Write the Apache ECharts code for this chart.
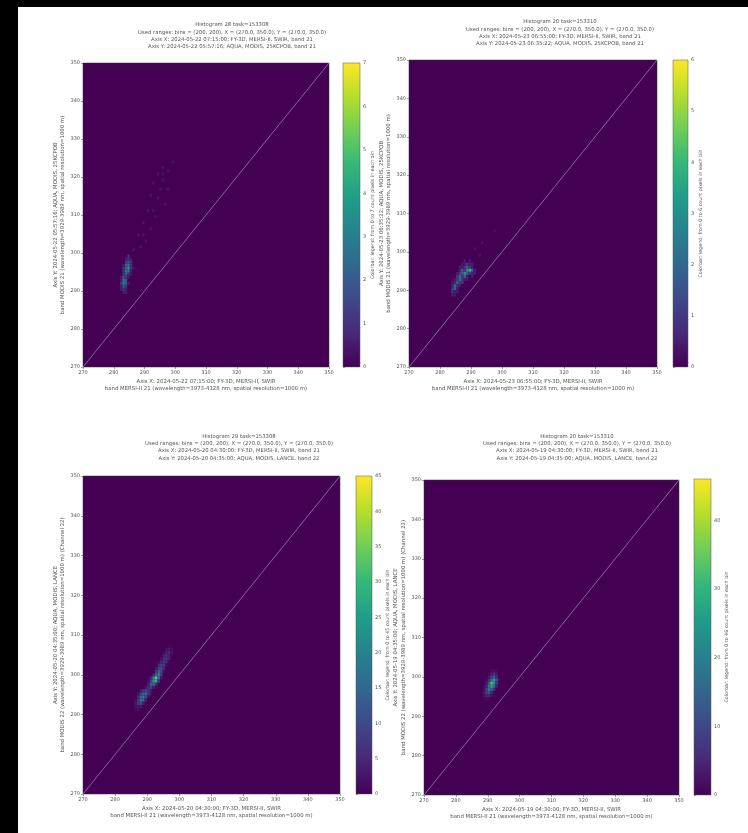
<!DOCTYPE html>
<html>
<head>
<meta charset="utf-8">
<title>Histograms</title>
<style>
  html, body { margin: 0; height: 100%; background: #000; overflow: hidden; }
  #paper { position: absolute; left: 18px; top: 7px; right: 0; bottom: 0; background: #fff; }
  #main { position: absolute; left: 0; top: 0; width: 748px; height: 833px; filter: blur(0.7px); }
</style>
</head>
<body>
<div id="paper"></div>
<div id="main"></div>
<script src="https://cdn.jsdelivr.net/npm/echarts@6/dist/echarts.min.js"></script>
<script>
// temperature range of all four histograms, K
var axisMin = 270;
var axisMax = 350;
var axisStep = 10;
var binWidth = 0.8;
var diagonal = [[270, 270], [350, 350]];

var viridis = ['#440154', '#482878', '#3e4989', '#31688e', '#26828e', '#1f9e89', '#35b779', '#6ece58', '#b5de2b', '#fde725'];

// histogram rows: [y, first x, counts in x bins...]
var rows28 = [
  [299.2, 284.8, 1],
  [298.4, 284, 0.5, 1, 0.5],
  [297.6, 284, 1, 2, 1],
  [296.8, 283.2, 0.5, 2, 3, 1],
  [296, 283.2, 1, 2, 4, 1, 0.5],
  [295.2, 283.2, 1, 3, 3, 0.5],
  [294.4, 283.2, 1, 2, 1, 0.5],
  [293.6, 282.4, 0.5, 2, 1, 0.5],
  [292.8, 282.4, 0.5, 3, 2],
  [292, 282.4, 1, 3, 2, 0.5],
  [291.2, 282.4, 0.5, 2, 1],
  [290.4, 282.4, 0.5, 1, 0.5],
  [289.6, 283.2, 0.5, 0.5],
  [324, 299.2, 0.4], [322.4, 296, 0.4], [321.6, 297.6, 0.4], [320.8, 294.4, 0.4, 0, 0.4],
  [319.2, 296, 0.4], [318.4, 292.8, 0.4], [316.8, 295.2, 0.4, 0, 0, 0.4], [315.2, 292, 0.4],
  [314.4, 294.4, 0.4], [312.8, 296.8, 0.4], [311.2, 291.2, 0.4, 0, 0.4], [309.6, 293.6, 0.4],
  [308, 289.6, 0.4], [306.4, 292, 0.4], [304.8, 288, 0.4, 0, 0.4], [303.2, 290.4, 0.4],
  [301.6, 288.8, 0.4], [300.8, 286.4, 0.4]
];
var rows20a = [
  [297.6, 288, 0.5, 0, 0.5],
  [296.8, 287.2, 0.5, 0.5, 1, 0.5, 0.5],
  [296, 286.4, 0.5, 0.5, 1, 2, 1, 0.5],
  [295.2, 286.4, 0.5, 2, 1, 3, 4, 2, 0.5],
  [294.4, 285.6, 0.5, 1, 2, 3, 2, 1, 0.5, 0.5],
  [293.6, 285.6, 1, 2, 1, 2, 0.5, 0, 0.5],
  [292.8, 284.8, 0.5, 1, 2, 1, 0.5, 0.5],
  [292, 284, 0.5, 0.5, 2, 1, 1],
  [291.2, 284, 0.5, 2, 1, 0.5],
  [290.4, 284, 1, 2, 0.5],
  [289.6, 284, 1, 0.5, 0.5],
  [288.8, 284, 0.5, 0.5],
  [305.6, 297.6, 0.3], [302.4, 293.6, 0.3], [300.8, 291.2, 0.3], [299.2, 292.8, 0.3]
];
var rows29 = [
  [307.2, 296.8, 1, 1],
  [306.4, 296, 2, 3, 2],
  [305.6, 295.2, 1, 4, 5, 2],
  [304.8, 295.2, 4, 6, 4, 1],
  [304, 294.4, 2, 6, 7, 4],
  [303.2, 293.6, 1, 5, 8, 6, 1],
  [302.4, 293.6, 5, 9, 8, 2],
  [301.6, 292.8, 3, 9, 11, 5],
  [300.8, 292.8, 7, 14, 10, 2],
  [300, 292, 4, 14, 20, 9],
  [299.2, 291.2, 6, 22, 34, 16, 3],
  [298.4, 290.4, 2, 9, 26, 28, 7],
  [297.6, 290.4, 4, 14, 16, 5],
  [296.8, 289.6, 2, 6, 8, 4, 1],
  [296, 288, 3, 7, 9, 7, 3],
  [295.2, 287.2, 2, 8, 14, 16, 8, 2],
  [294.4, 287.2, 5, 16, 20, 10, 2],
  [293.6, 286.4, 2, 7, 16, 14, 4],
  [292.8, 286.4, 3, 8, 10, 4],
  [292, 286.4, 2, 3, 3],
  [291.2, 286.4, 1, 2]
];
var rows20b = [
  [301.6, 291.2, 1, 2, 1],
  [300.8, 290.4, 1, 3, 6, 3],
  [300, 290.4, 3, 9, 13, 6, 1],
  [299.2, 289.6, 1, 6, 18, 26, 12, 2],
  [298.4, 289.6, 3, 14, 34, 26, 8, 1],
  [297.6, 288.8, 1, 5, 18, 28, 18, 4],
  [296.8, 288.8, 2, 8, 18, 16, 6],
  [296, 288.8, 3, 9, 12, 6, 1],
  [295.2, 288.8, 2, 5, 5, 2],
  [294.4, 288.8, 1, 2, 1]
];

var titles = [
  'Histogram 28 task=153308\nUsed ranges: bins = (200, 200), X = (270.0, 350.0), Y = (270.0, 350.0)\nAxis X: 2024-05-22 07:15:00; FY-3D, MERSI-II, SWIR, band 21\nAxis Y: 2024-05-22 05:57:16; AQUA, MODIS, 25KCPOB, band 21',
  'Histogram 20 task=153310\nUsed ranges: bins = (200, 200), X = (270.0, 350.0), Y = (270.0, 350.0)\nAxis X: 2024-05-23 06:55:00; FY-3D, MERSI-II, SWIR, band 21\nAxis Y: 2024-05-23 06:35:22; AQUA, MODIS, 25KCPOB, band 21',
  'Histogram 29 task=153308\nUsed ranges: bins = (200, 200), X = (270.0, 350.0), Y = (270.0, 350.0)\nAxis X: 2024-05-20 04:30:00; FY-3D, MERSI-II, SWIR, band 21\nAxis Y: 2024-05-20 04:35:00; AQUA, MODIS, LANCE, band 22',
  'Histogram 20 task=153310\nUsed ranges: bins = (200, 200), X = (270.0, 350.0), Y = (270.0, 350.0)\nAxis X: 2024-05-19 04:30:00; FY-3D, MERSI-II, SWIR, band 21\nAxis Y: 2024-05-19 04:35:00; AQUA, MODIS, LANCE, band 22'
];
var xNames = [
  'Axis X: 2024-05-22 07:15:00; FY-3D, MERSI-II, SWIR\nband MERSI-II 21 (wavelength=3973-4128 nm, spatial resolution=1000 m)',
  'Axis X: 2024-05-23 06:55:00; FY-3D, MERSI-II, SWIR\nband MERSI-II 21 (wavelength=3973-4128 nm, spatial resolution=1000 m)',
  'Axis X: 2024-05-20 04:30:00; FY-3D, MERSI-II, SWIR\nband MERSI-II 21 (wavelength=3973-4128 nm, spatial resolution=1000 m)',
  'Axis X: 2024-05-19 04:30:00; FY-3D, MERSI-II, SWIR\nband MERSI-II 21 (wavelength=3973-4128 nm, spatial resolution=1000 m)'
];
var yNames = [
  'Axis Y: 2024-05-22 05:57:16; AQUA, MODIS, 25KCPOB\nband MODIS 21 (wavelength=3929-3989 nm, spatial resolution=1000 m)',
  'Axis Y: 2024-05-23 06:35:22; AQUA, MODIS, 25KCPOB\nband MODIS 21 (wavelength=3929-3989 nm, spatial resolution=1000 m)',
  'Axis Y: 2024-05-20 04:35:00; AQUA, MODIS, LANCE\nband MODIS 22 (wavelength=3929-3989 nm, spatial resolution=1000 m) (Channel 22)',
  'Axis Y: 2024-05-19 04:35:00; AQUA, MODIS, LANCE\nband MODIS 22 (wavelength=3929-3989 nm, spatial resolution=1000 m) (Channel 22)'
];
var barMax = [7, 6, 45, 46];
var barStep = [1, 1, 5, 10];
var barNames = [
  'Colorbar: legend: from 0 to 7 count pixels in each bin',
  'Colorbar: legend: from 0 to 6 count pixels in each bin',
  'Colorbar: legend: from 0 to 45 count pixels in each bin',
  'Colorbar: legend: from 0 to 46 count pixels in each bin'
];
var histRows = [rows28, rows20a, rows29, rows20b];

// page layout of each panel
var layout = [
  {left: 83, top: 63, width: 246, height: 304, barLeft: 343, barTop: 63, barW: 17, barH: 304, barGap: 6.5, titleX: 232, titleTop: 21.5, yGap: 14},
  {left: 409, top: 60, width: 248, height: 307, barLeft: 673, barTop: 60, barW: 15, barH: 307, barGap: 9, titleX: 560, titleTop: 18.5, yGap: 15},
  {left: 83, top: 476, width: 257, height: 318, barLeft: 356, barTop: 476, barW: 16, barH: 318, barGap: 10, titleX: 239, titleTop: 433, yGap: 14},
  {left: 424, top: 480, width: 255, height: 315, barLeft: 694, barTop: 479, barW: 17, barH: 316, barGap: 10, titleX: 577, titleTop: 433, yGap: 17}
];

var textColor = '#555';

function expandRows(rows) {
  var cells = [];
  rows.forEach(function (row) {
    for (var i = 2; i < row.length; i++) {
      if (row[i] > 0) cells.push([row[1] + (i - 2) * binWidth, row[0], row[i]]);
    }
  });
  return cells;
}

function renderBin(params, api) {
  var start = api.coord([api.value(0), api.value(1)]);
  var size = api.size([binWidth, binWidth]);
  return {
    type: 'rect',
    shape: {x: start[0] - size[0] / 2, y: start[1] - size[1] / 2, width: size[0], height: size[1]},
    style: {fill: api.visual('color')}
  };
}

// the colorbar itself: one rect from 0 to the top of its axis
function renderBar(params, api) {
  var low = api.coord([0, 0]);
  var high = api.coord([1, api.value(1)]);
  var stops = viridis.map(function (c, k) {
    return {offset: 1 - k / (viridis.length - 1), color: c};
  }).reverse();
  return {
    type: 'rect',
    shape: {x: low[0], y: high[1], width: high[0] - low[0], height: low[1] - high[1]},
    style: {fill: new echarts.graphic.LinearGradient(0, 0, 0, 1, stops)}
  };
}

var option = {
  animation: false,
  title: [], grid: [], xAxis: [], yAxis: [], series: [], visualMap: []
};

layout.forEach(function (p, i) {
  option.title.push({
    text: titles[i], left: p.titleX, top: p.titleTop, textAlign: 'center', padding: 0,
    textStyle: {fontSize: 5.3, lineHeight: 7.2, fontWeight: 'normal', color: textColor, fontFamily: 'DejaVu Sans'}
  });

  // heatmap panel
  option.grid.push({left: p.left, top: p.top, width: p.width, height: p.height, show: true, backgroundColor: viridis[0], borderColor: '#333', borderWidth: 0.5});
  var common = {
    type: 'value', min: axisMin, max: axisMax, interval: axisStep, splitLine: {show: false},
    axisLine: {show: false}, axisTick: {length: 2, lineStyle: {color: '#444', width: 0.5}},
    axisLabel: {fontSize: 5, color: textColor, margin: 3, fontFamily: 'DejaVu Sans'},
    nameLocation: 'middle', nameTextStyle: {fontSize: 5.4, lineHeight: 7.4, color: textColor, fontFamily: 'DejaVu Sans'}
  };
  option.xAxis.push(Object.assign({}, common, {gridIndex: i * 2, name: xNames[i], nameGap: 10.5}));
  option.yAxis.push(Object.assign({}, common, {gridIndex: i * 2, name: yNames[i], nameGap: p.yGap, nameRotate: 90}));

  // colorbar axis
  option.grid.push({left: p.barLeft, top: p.barTop, width: p.barW, height: p.barH, show: true, backgroundColor: 'transparent', borderColor: '#555', borderWidth: 0.5, z: 20});
  option.xAxis.push({type: 'value', gridIndex: i * 2 + 1, show: false, min: 0, max: 1});
  option.yAxis.push({
    type: 'value', gridIndex: i * 2 + 1, position: 'right', min: 0, max: barMax[i], interval: barStep[i],
    splitLine: {show: false}, axisLine: {show: false}, axisTick: {length: 2, lineStyle: {color: '#444', width: 0.5}},
    axisLabel: {fontSize: 5, color: textColor, margin: 3, showMaxLabel: barMax[i] % barStep[i] === 0, fontFamily: 'DejaVu Sans'},
    name: barNames[i], nameLocation: 'middle', nameRotate: 90, nameGap: p.barGap,
    nameTextStyle: {fontSize: 4.8, color: textColor, fontFamily: 'DejaVu Sans'}
  });

  option.series.push({
    type: 'custom', name: 'hist' + i, coordSys: 'cartesian2d', xAxisIndex: i * 2, yAxisIndex: i * 2,
    data: expandRows(histRows[i]), renderItem: renderBin, encode: {x: 0, y: 1}, silent: true, clip: true
  });
  option.visualMap.push({
    type: 'continuous', show: false, seriesIndex: i * 3, dimension: 2, min: 0, max: barMax[i],
    inRange: {color: viridis}
  });
  option.series.push({
    type: 'line', xAxisIndex: i * 2, yAxisIndex: i * 2, data: diagonal, showSymbol: false, silent: true,
    lineStyle: {color: '#8a6ea6', width: 0.9}, z: 5
  });
  option.series.push({
    type: 'custom', name: 'bar' + i, coordSys: 'cartesian2d', xAxisIndex: i * 2 + 1, yAxisIndex: i * 2 + 1,
    data: [[0, barMax[i]]], renderItem: renderBar, silent: true
  });
});

var chart = echarts.init(document.getElementById('main'));
chart.setOption(option);
</script>
</body>
</html>
